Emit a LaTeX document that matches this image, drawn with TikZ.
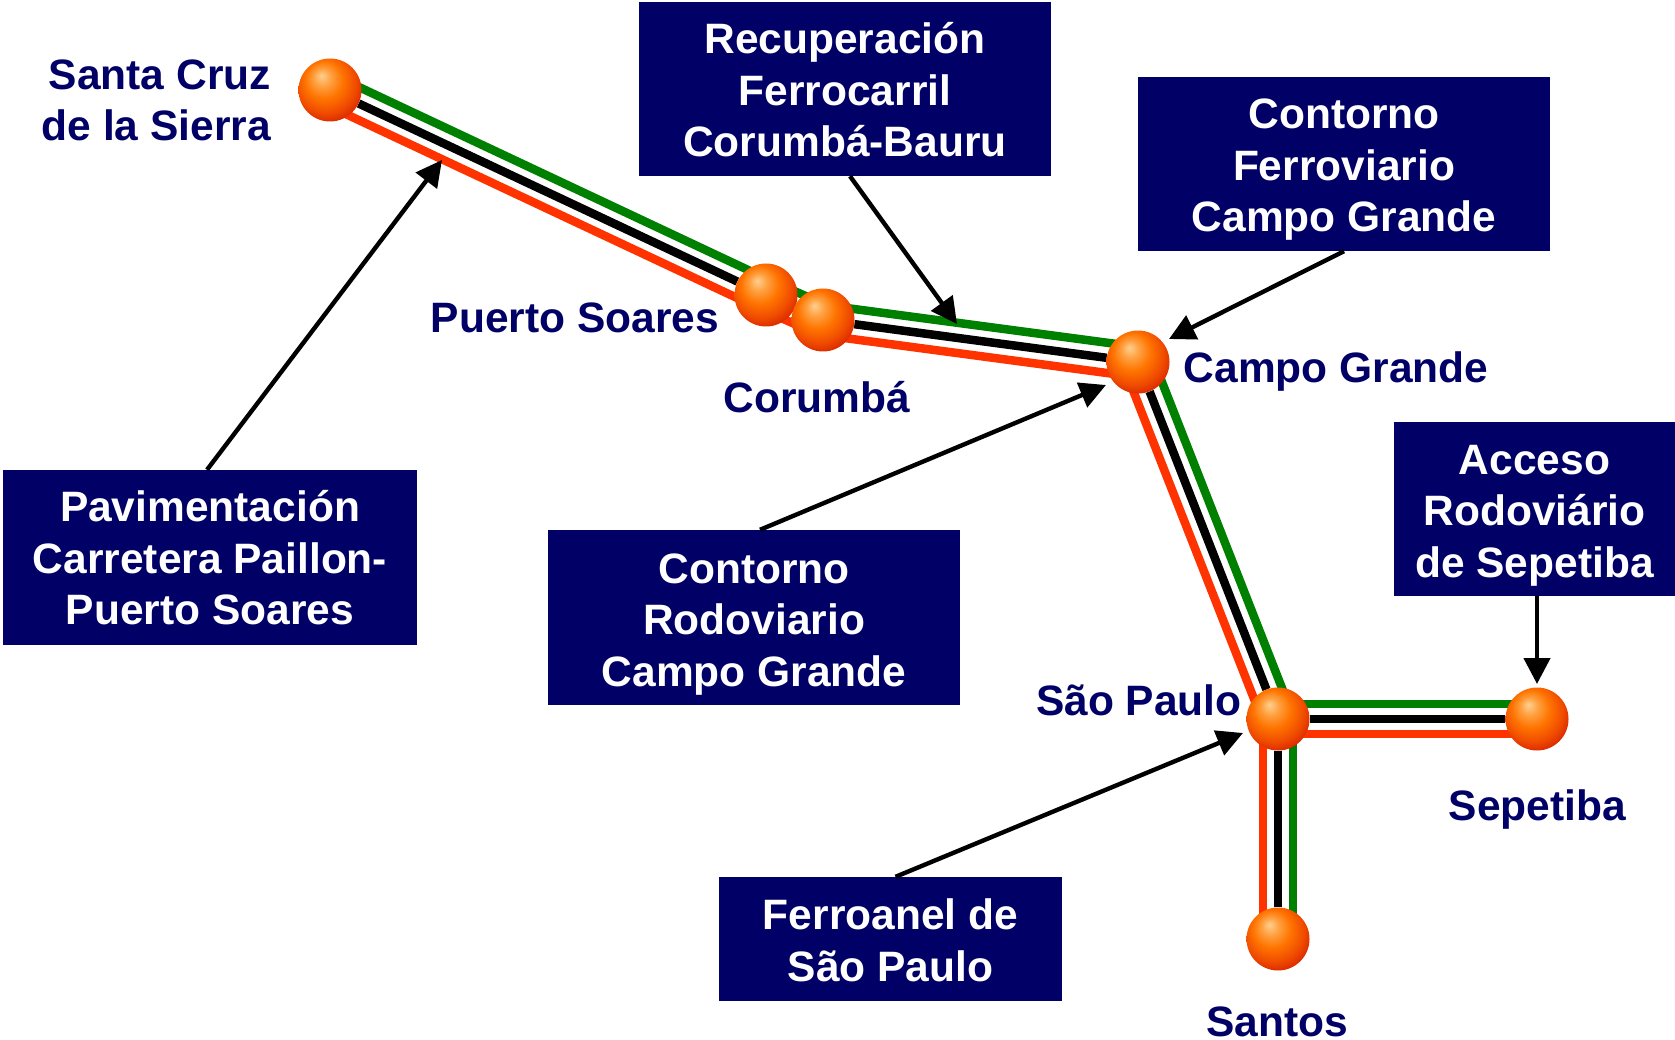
\documentclass[tikz,border=0pt]{standalone}
\usepackage{fontspec}
\setmainfont{Liberation Sans}
\usetikzlibrary{arrows.meta,calc,backgrounds}
\definecolor{navyb}{HTML}{000066}
\definecolor{railg}{HTML}{008000}
\definecolor{railr}{HTML}{FF3300}
\definecolor{ba}{HTML}{FFD090}
\definecolor{bb}{HTML}{FFA040}
\definecolor{bc}{HTML}{FF7400}
\definecolor{bd}{HTML}{F04C00}
\definecolor{be}{HTML}{D82600}
\definecolor{bf}{HTML}{BC1200}
\pgfdeclareradialshading{sphereorange}{\pgfqpoint{-7bp}{11.5bp}}{color(0bp)=(ba); color(7bp)=(bb); color(15bp)=(bc); color(24bp)=(bd); color(31bp)=(be); color(38bp)=(bf); color(50bp)=(bf)}
\tikzset{
  txt/.style={font=\fontsize{42.5}{51.5}\selectfont\bfseries,align=center,inner sep=0pt},
  boxn/.style={txt,fill=navyb,text=white,anchor=center},
  lab/.style={txt,text=navyb},
  sphere/.style={circle,minimum size=63pt,inner sep=0pt,shading=sphereorange},
  rail/.style={line width=8.5pt},
  pointer/.style={line width=4.4pt,-{Triangle[length=26pt,width=26pt]},shorten >=0pt},
}
\newcommand{\dn}[1]{\rule{0pt}{\dimexpr 31pt+#1pt+#1pt\relax}}
\newcommand{\trio}[2]{%
  \draw[rail,railg] ($(#1)!15pt!90:(#2)$) -- ($(#2)!15pt!-90:(#1)$);
  \draw[rail,black] (#1) -- (#2);
  \draw[rail,railr] ($(#1)!15pt!-90:(#2)$) -- ($(#2)!15pt!90:(#1)$);
}
\begin{document}
\begin{tikzpicture}[x=1pt,y=-1pt]
\useasboundingbox (0,0) rectangle (1675,1040);
% spheres
\node[sphere] (sc) at (330,90) {};
\node[sphere] (ps) at (766,295) {};
\node[sphere] (co) at (823,320) {};
\node[sphere] (cg) at (1138,362) {};
\node[sphere] (sp) at (1278,719) {};
\node[sphere] (se) at (1537,719) {};
\node[sphere] (sa) at (1278,939) {};
% rails
\begin{scope}[on background layer]
\trio{sc}{ps}
\trio{ps}{co}
\trio{co}{cg}
\trio{cg}{sp}
\trio{sp}{se}
\trio{sp}{sa}
\end{scope}
% boxes
\node[boxn,minimum width=412pt,minimum height=174pt] (bRec) at (845,89) {\dn{1}Recuperación\\Ferrocarril\\Corumbá-Bauru};
\node[boxn,minimum width=412pt,minimum height=174pt] (bFer) at (1344,164) {\dn{5.3}Contorno\\Ferroviario\\Campo Grande};
\node[boxn,minimum width=414pt,minimum height=175pt] (bPav) at (210,557.5) {\dn{0.5}Pavimentación\\Carretera Paillon-\\Puerto Soares};
\node[boxn,minimum width=412pt,minimum height=175pt] (bRod) at (754,617.5) {\dn{6.4}Contorno\\Rodoviario\\Campo Grande};
\node[boxn,minimum width=281pt,minimum height=174pt] (bAcc) at (1534.5,509) {\dn{5.5}Acceso\\Rodoviário\\de Sepetiba};
\node[boxn,minimum width=343pt,minimum height=124pt] (bAne) at (890.5,939) {\dn{1.3}Ferroanel de\\São Paulo};
% labels
\node[lab,anchor=east,align=right] (lSC) at (271,100.5) {Santa Cruz\\de la Sierra};
\node[lab] (lPS) at (575,318) {Puerto Soares};
\node[lab] (lCo) at (817,397) {Corumbá};
\node[lab] (lCG) at (1336,371.5) {Campo Grande};
\node[lab] (lSP) at (1139,700) {São Paulo};
\node[lab] (lSe) at (1537.5,810) {Sepetiba};
\node[lab] (lSa) at (1277,1021.5) {Santos};
% arrow ends
\coordinate (tPav) at (442,160);
\coordinate (tRec) at (957,324);
\coordinate (tFer) at (1169,339);
\coordinate (tRod) at (1106,385);
\coordinate (tAcc) at (1537,684);
\coordinate (tAne) at (1243,733);
\draw[pointer] ([xshift=-3pt]bPav.north) -- (tPav);
\draw[pointer] ([xshift=5pt]bRec.south) -- (tRec);
\draw[pointer] (bFer.south) -- (tFer);
\draw[pointer] ([xshift=6pt]bRod.north) -- (tRod);
\draw[pointer] ([xshift=2.5pt]bAcc.south) -- (tAcc);
\draw[pointer] ([xshift=5pt]bAne.north) -- (tAne);
\end{tikzpicture}
\end{document}
